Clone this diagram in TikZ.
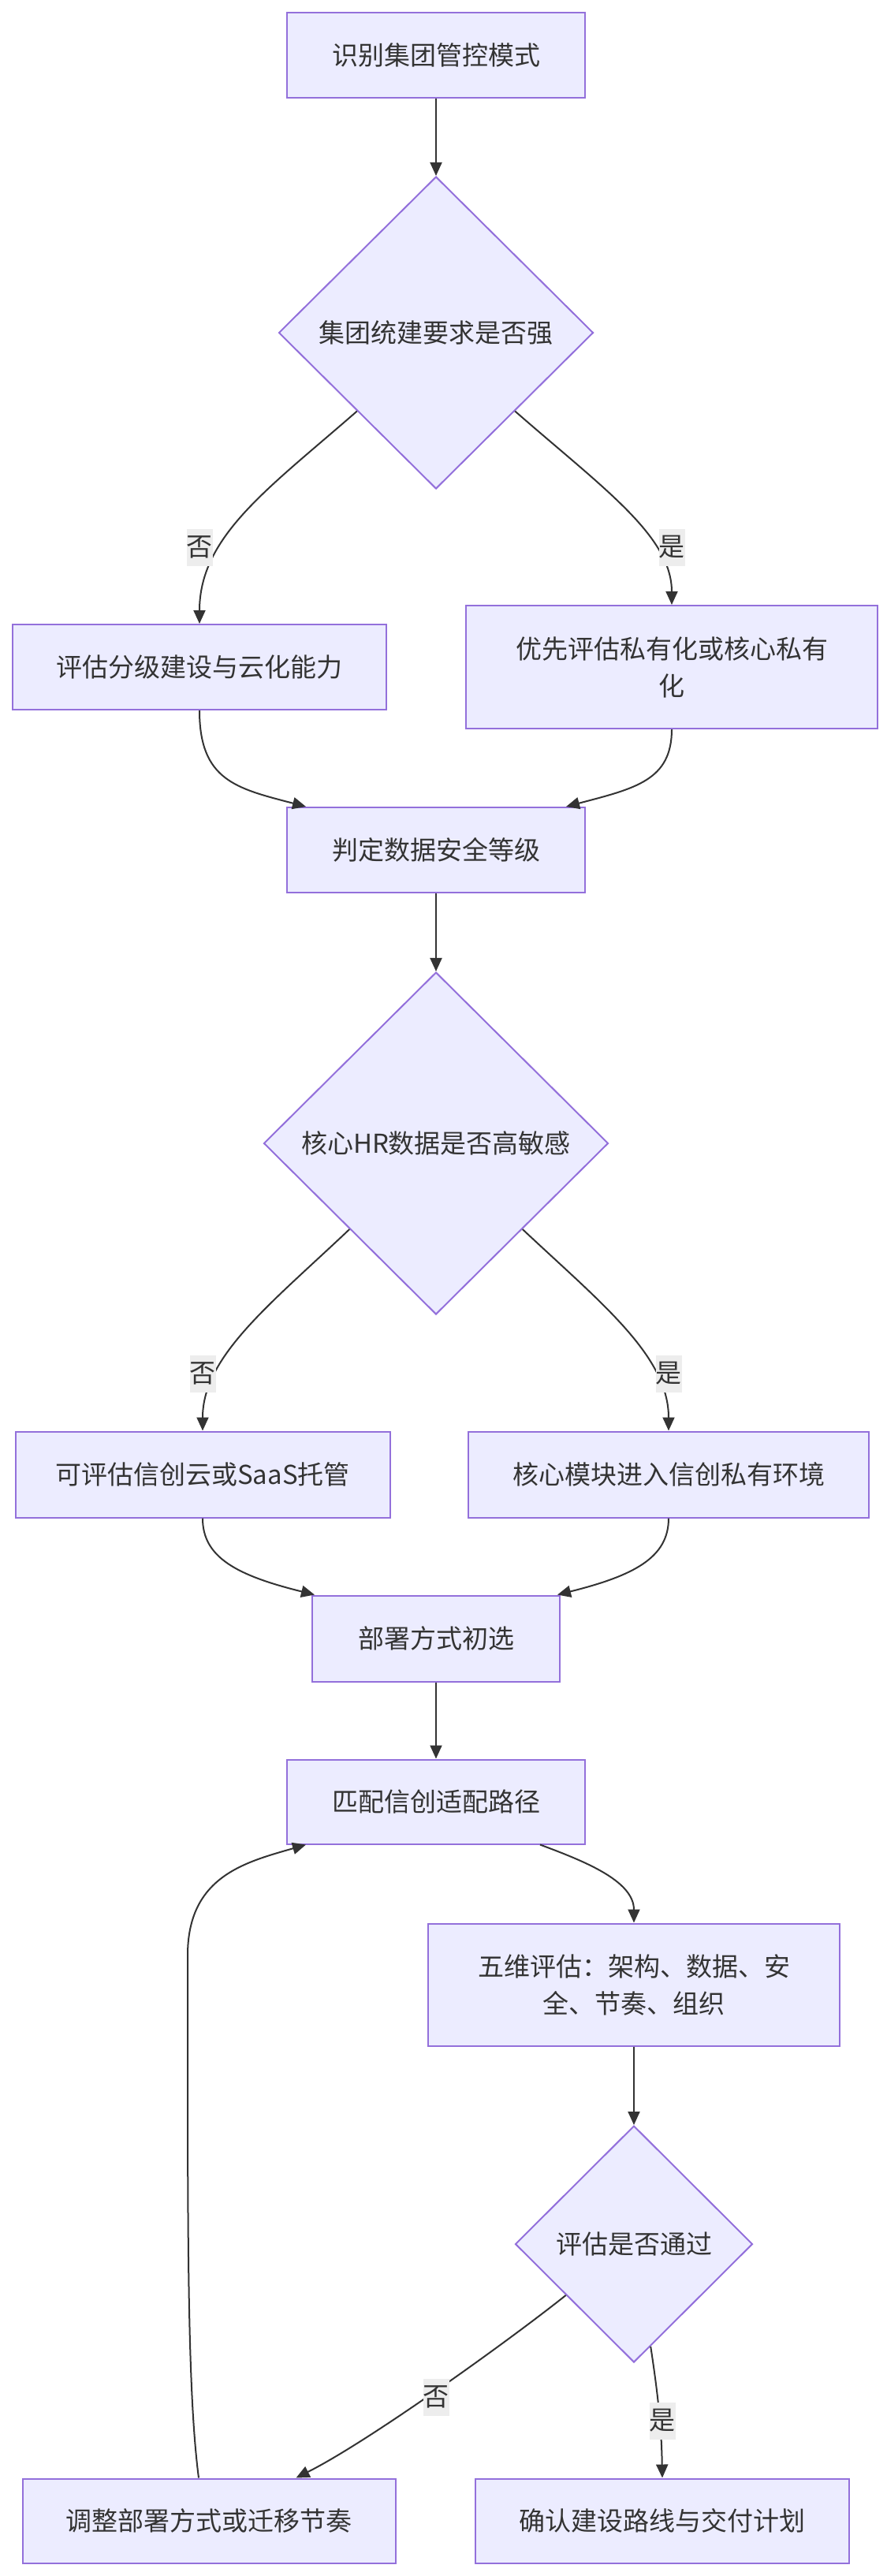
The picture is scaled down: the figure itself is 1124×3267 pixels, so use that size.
\documentclass[tikz,border=0pt]{standalone}
\usepackage{fontspec}
\setmainfont{Noto Sans CJK SC}
\usetikzlibrary{shapes.geometric,arrows.meta,calc}
\definecolor{nodefill}{HTML}{ECECFF}
\definecolor{nodeline}{HTML}{9370DB}
\definecolor{edgeline}{HTML}{333333}
\definecolor{lblfill}{HTML}{EDEDED}
\begin{document}
\begin{tikzpicture}[x=1pt,y=-1pt,
  base/.style={draw=nodeline, fill=nodefill, line width=2pt, text=edgeline,
    font=\fontsize{33}{47}\selectfont, align=center, inner sep=0pt},
  procbox/.style={base, rectangle},
  decision/.style={base, diamond, aspect=1},
  flow/.style={draw=edgeline, line width=2pt, -{Triangle[length=17pt,width=15pt]}},
  lbl/.style={fill=lblfill, text=edgeline, font=\fontsize{33}{47}\selectfont,
    inner sep=0pt, minimum height=47pt, minimum width=31pt}
]
\useasboundingbox (0,0) rectangle (1124,3267);

% nodes
\node[procbox, minimum width=378pt, minimum height=108pt] (n1) at (553,70) {识别集团管控模式};
\node[decision, minimum width=399pt, minimum height=396pt] (d1) at (553,422) {集团统建要求是否强};
\node[procbox, minimum width=474pt, minimum height=108pt] (b2) at (253,846) {评估分级建设与云化能力};
\node[procbox, minimum width=522pt, minimum height=156pt] (b3) at (852,846) {优先评估私有化或核心私有\\化};
\node[procbox, minimum width=378pt, minimum height=108pt] (b4) at (553,1078) {判定数据安全等级};
\node[decision, minimum width=437pt, minimum height=434pt] (d2) at (553,1450) {核心HR数据是否高敏感};
\node[procbox, minimum width=475pt, minimum height=109pt] (b5) at (257,1870) {可评估信创云或SaaS托管};
\node[procbox, minimum width=508pt, minimum height=109pt] (b6) at (848,1870) {核心模块进入信创私有环境};
\node[procbox, minimum width=314pt, minimum height=109pt] (b7) at (553,2078) {部署方式初选};
\node[procbox, minimum width=378pt, minimum height=107pt] (b8) at (553,2285) {匹配信创适配路径};
\node[procbox, minimum width=522pt, minimum height=155pt] (b9) at (804,2517) {五维评估：架构、数据、安\\全、节奏、组织};
\node[decision, minimum width=301pt, minimum height=300pt] (d3) at (804,2846) {评估是否通过};
\node[procbox, minimum width=473pt, minimum height=107pt] (b10) at (265,3197) {调整部署方式或迁移节奏};
\node[procbox, minimum width=474pt, minimum height=107pt] (b11) at (840,3197) {确认建设路线与交付计划};

% edges
\draw[flow] (n1) -- (d1);
\draw[flow] (d1.south west) .. controls (340,620) and (253,680) .. (b2.north);
\draw[flow] (d1.south east) .. controls (766,620) and (852,680) .. (b3.north);
\draw[flow] (b2.south) .. controls (253,990) and (300,1000) .. ([xshift=25pt]b4.north west);
\draw[flow] (b3.south) .. controls (852,990) and (805,1000) .. ([xshift=-25pt]b4.north east);
\draw[flow] (b4) -- (d2);
\draw[flow] (d2.south west) .. controls (343,1654) and (257,1720) .. (b5.north);
\draw[flow] (d2.south east) .. controls (764,1654) and (848,1720) .. (b6.north);
\draw[flow] (b5.south) .. controls (257,1975) and (300,1998) .. ([xshift=4pt]b7.north west);
\draw[flow] (b6.south) .. controls (848,1975) and (805,1998) .. ([xshift=-4pt]b7.north east);
\draw[flow] (b7) -- (b8);
\draw[flow] ([xshift=-58pt]b8.south east) .. controls (740,2360) and (804,2385) .. (b9.north);
\draw[flow] (b9) -- (d3);
\draw[flow] ($(d3.west)!0.43!(d3.south)$) .. controls (650,2965) and (470,3095) .. ([xshift=-127pt]b10.north east);
\draw[flow] ($(d3.south)!0.14!(d3.east)$) .. controls (835,3040) and (839,3080) .. (b11.north);
\draw[flow] ([xshift=-13pt]b10.north) .. controls (240,3050) and (238,2900) .. (238,2620)
  -- (238,2480) .. controls (238,2380) and (310,2362) .. ([xshift=25pt]b8.south west);

% edge labels
\node[lbl] (l1) at (253,694) {否};
\node[lbl] (l2) at (852,694) {是};
\node[lbl] (l3) at (257,1742) {否};
\node[lbl] (l4) at (848,1742) {是};
\node[lbl] (l5) at (553,3040) {否};
\node[lbl] (l6) at (840,3070) {是};
\end{tikzpicture}
\end{document}
